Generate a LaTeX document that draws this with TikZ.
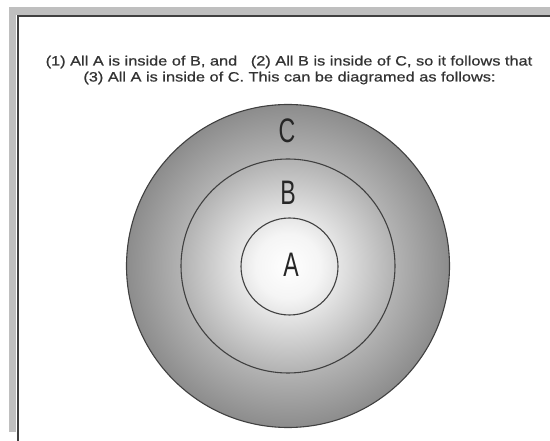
\documentclass[tikz,border=0pt]{standalone}
\usepackage{fontspec}
\setmainfont{Liberation Sans}
\newfontfamily\condfont[FakeStretch=1.21,FakeBold=0.7]{Liberation Sans}
\newfontfamily\letterfont[FakeStretch=0.68]{Liberation Sans}
\pgfdeclareradialshading{vennshade}{\pgfpoint{0bp}{0bp}}{%
  color(0bp)=(white); color(5bp)=(white!96!black); color(16bp)=(black!29);
  color(25bp)=(black!45); color(50bp)=(black!45)}
\tikzset{
  ring/.style={draw=black!75, line width=1.1pt},
  caption/.style={font=\condfont\fontsize{13.5}{15}\selectfont, text=black!80, inner sep=0pt},
  letter/.style={font=\letterfont\fontsize{34}{34}\selectfont, text=black!85, inner sep=0pt},
  band/.style={fill=black!25, draw=none},
  edge/.style={draw=black!75, line width=1.6pt}
}
\begin{document}
\begin{tikzpicture}[x=1pt,y=-1pt]
\useasboundingbox (0,0) rectangle (550,441);
\fill[white] (0,0) rectangle (550,441);
% frame
\fill[band] (9,7) rectangle (550,15);
\fill[band] (9,7) rectangle (16,432);
\coordinate (fl) at (18,441);
\coordinate (fc) at (18,16);
\coordinate (fr) at (550,16);
\draw[edge] (fl) -- (fc) -- (fr);
% captions
\node[caption] (line1) at (289,62) {(1) All A is inside of B, and\ \ \ (2) All B is inside of C, so it follows that};
\node[caption] (line2) at (289.5,78) {(3) All A is inside of C. This can be diagramed as follows:};
% circles
\node[circle, minimum size=323pt, inner sep=0pt, shading=vennshade, ring] (C) at (288,266) {};
\node[circle, minimum size=214pt, inner sep=0pt, ring] (B) at (288,266) {};
\node[circle, minimum size=97pt, inner sep=0pt, ring] (A) at (289.5,266.5) {};
\node[letter] (lc) at (287,131) {C};
\node[letter] (lb) at (288,193) {B};
\node[letter] (la) at (291,265) {A};
\end{tikzpicture}
\end{document}
